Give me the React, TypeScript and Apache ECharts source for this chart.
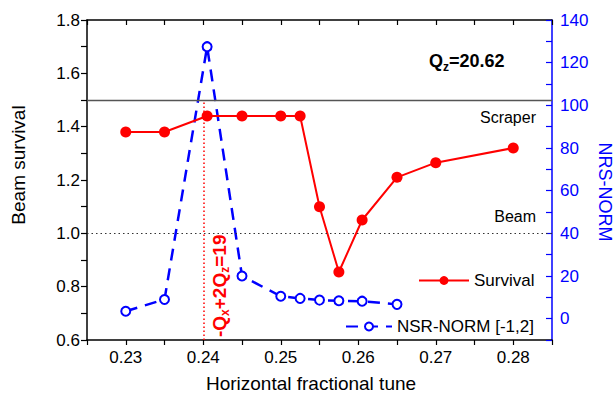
import React, { useEffect, useRef } from "react";
import * as echarts from "echarts";

const xSurvival = [0.23, 0.235, 0.2405, 0.245, 0.25, 0.2525, 0.255, 0.2575, 0.2605, 0.265, 0.27, 0.28];
const survival = [1.38, 1.38, 1.44, 1.44, 1.44, 1.44, 1.1, 0.855, 1.05, 1.21, 1.265, 1.32];
const xNsr = [0.23, 0.235, 0.2405, 0.245, 0.25, 0.2525, 0.255, 0.2575, 0.2605, 0.265];
const nsrNorm = [3.5, 9, 127.5, 20, 10.5, 9.5, 8.7, 8.4, 8.2, 6.7];
const scraperLevel = 1.5;
const beamLevel = 1.0;
const resonanceTune = 0.24;

const FONT = "'Liberation Sans', Arial, sans-serif";
const RED = "#ff0000";
const BLUE = "#0000ff";

export default function App() {
  const ref = useRef<HTMLDivElement>(null);
  useEffect(() => {
    if (!ref.current) return;
    const chart = echarts.init(ref.current, undefined, { renderer: "svg" });
    const xFmt = (v: number) => (Math.round(v * 1000) % 10 === 0 ? v.toFixed(2) : "");
    const option: any = {
      animation: false,
      backgroundColor: "#ffffff",
      textStyle: { fontFamily: FONT },
      grid: { left: 87, right: 64, top: 20, bottom: 53 },
      legend: [
        {
          data: ["Survival"],
          left: 413,
          top: 267,
          itemWidth: 50,
          itemHeight: 11,
          textStyle: { fontSize: 17, color: "#000", fontFamily: FONT },
        },
        {
          data: ["NSR-NORM [-1,2]"],
          left: 340,
          top: 313,
          itemWidth: 46,
          itemHeight: 10,
          textStyle: { fontSize: 17, color: "#000", fontFamily: FONT },
        },
      ],
      xAxis: [
        {
          type: "value",
          min: 0.225,
          max: 0.285,
          interval: 0.005,
          axisLine: { onZero: false, lineStyle: { color: "#000", width: 1.5 } },
          axisTick: { length: 5, lineStyle: { color: "#000", width: 1.2 } },
          axisLabel: { formatter: xFmt, fontSize: 17, color: "#000", margin: 9, fontFamily: FONT },
          splitLine: { show: false },
        },
        {
          type: "value",
          position: "top",
          min: 0.225,
          max: 0.285,
          interval: 0.005,
          axisLine: { show: true, onZero: false, lineStyle: { color: "#000", width: 1.5 } },
          axisTick: { inside: true, length: 5, lineStyle: { color: "#000", width: 1.2 } },
          axisLabel: { show: false },
          splitLine: { show: false },
        },
      ],
      yAxis: [
        {
          type: "value",
          min: 0.6,
          max: 1.8,
          interval: 0.1,
          axisLine: { show: true, onZero: false, lineStyle: { color: "#000", width: 1.5 } },
          axisTick: { length: 6, lineStyle: { color: "#000", width: 1.2 } },
          axisLabel: {
            formatter: (v: number) => (Math.round(v * 10) % 2 === 0 ? v.toFixed(1) : ""),
            fontSize: 17,
            color: "#000",
            margin: 7,
            fontFamily: FONT,
          },
          splitLine: { show: false },
        },
        {
          type: "value",
          position: "right",
          min: -10,
          max: 140,
          interval: 10,
          axisLine: { show: true, onZero: false, lineStyle: { color: BLUE, width: 1.5 } },
          axisTick: { inside: true, length: 6, lineStyle: { color: BLUE, width: 1.2 } },
          axisLabel: {
            formatter: (v: number) => (Math.round(v) % 20 === 0 ? String(Math.round(v)) : ""),
            fontSize: 17,
            color: BLUE,
            margin: 8,
            fontFamily: FONT,
          },
          splitLine: { show: false },
        },
      ],
      series: [
        {
          name: "Survival",
          type: "line",
          xAxisIndex: 0,
          yAxisIndex: 0,
          data: xSurvival.map((x, i) => [x, survival[i]]),
          symbol: "circle",
          symbolSize: 11,
          itemStyle: { color: RED },
          lineStyle: { color: RED, width: 2 },
          z: 3,
          markLine: {
            silent: true,
            symbol: "none",
            label: { show: false },
            lineStyle: { color: RED, width: 1.5, type: [1.5, 2.5], opacity: 1 },
            data: [
              { yAxis: scraperLevel, lineStyle: { color: "#555", width: 1.3, type: "solid" } },
              { yAxis: beamLevel, lineStyle: { color: "#333", width: 1.2, type: [1.5, 3] } },
              [{ coord: [resonanceTune, 0.6] }, { coord: [resonanceTune, scraperLevel] }],
            ],
          },
        },
        {
          name: "NSR-NORM [-1,2]",
          type: "line",
          xAxisIndex: 0,
          yAxisIndex: 1,
          data: xNsr.map((x, i) => [x, nsrNorm[i]]),
          symbol: "emptyCircle",
          symbolSize: 9,
          itemStyle: { color: BLUE, borderColor: BLUE, borderWidth: 1.5 },
          lineStyle: { color: BLUE, width: 2.5, type: [12, 8] },
          z: 2,
        },
      ],
      graphic: [
        {
          type: "text",
          x: 18,
          y: 165,
          rotation: Math.PI / 2,
          style: { text: "Beam survival", fontSize: 19, fontFamily: FONT, fill: "#000", align: "center", verticalAlign: "middle" },
        },
        {
          type: "text",
          x: 311,
          y: 383,
          style: { text: "Horizontal fractional tune", fontSize: 19, fontFamily: FONT, fill: "#000", align: "center", verticalAlign: "middle" },
        },
        {
          type: "text",
          x: 605,
          y: 192,
          rotation: -Math.PI / 2,
          style: { text: "NRS-NORM", fontSize: 18, fontFamily: FONT, fill: BLUE, align: "center", verticalAlign: "middle" },
        },
        {
          type: "text",
          x: 536,
          y: 117,
          style: { text: "Scraper", fontSize: 16, fontFamily: FONT, fill: "#000", align: "right", verticalAlign: "middle" },
        },
        {
          type: "text",
          x: 536,
          y: 216,
          style: { text: "Beam", fontSize: 16, fontFamily: FONT, fill: "#000", align: "right", verticalAlign: "middle" },
        },
        {
          type: "text",
          x: 429,
          y: 61,
          style: {
            text: "Q{sub|z}=20.62",
            fontSize: 18,
            fontWeight: "bold",
            fontFamily: FONT,
            fill: "#000",
            align: "left",
            verticalAlign: "middle",
            lineHeight: 24,
            rich: {
              sub: { fontSize: 12, fontWeight: "bold", fontFamily: FONT, fill: "#000", verticalAlign: "bottom", lineHeight: 12 },
            },
          },
        },
        {
          type: "text",
          x: 219,
          y: 337,
          rotation: Math.PI / 2,
          style: {
            text: "-Q{sub|x}+2Q{sub|z}=19",
            fontSize: 19,
            fontWeight: "bold",
            fontFamily: FONT,
            fill: RED,
            align: "left",
            verticalAlign: "middle",
            lineHeight: 24,
            rich: {
              sub: { fontSize: 12, fontWeight: "bold", fontFamily: FONT, fill: RED, verticalAlign: "bottom", lineHeight: 12 },
            },
          },
        },
      ],
    };
    chart.setOption(option);
    return () => chart.dispose();
  }, []);
  return (
    <div
      ref={ref}
      style={{ position: "fixed", left: 0, top: 0, width: 616, height: 393, background: "#fff" }}
    />
  );
}
